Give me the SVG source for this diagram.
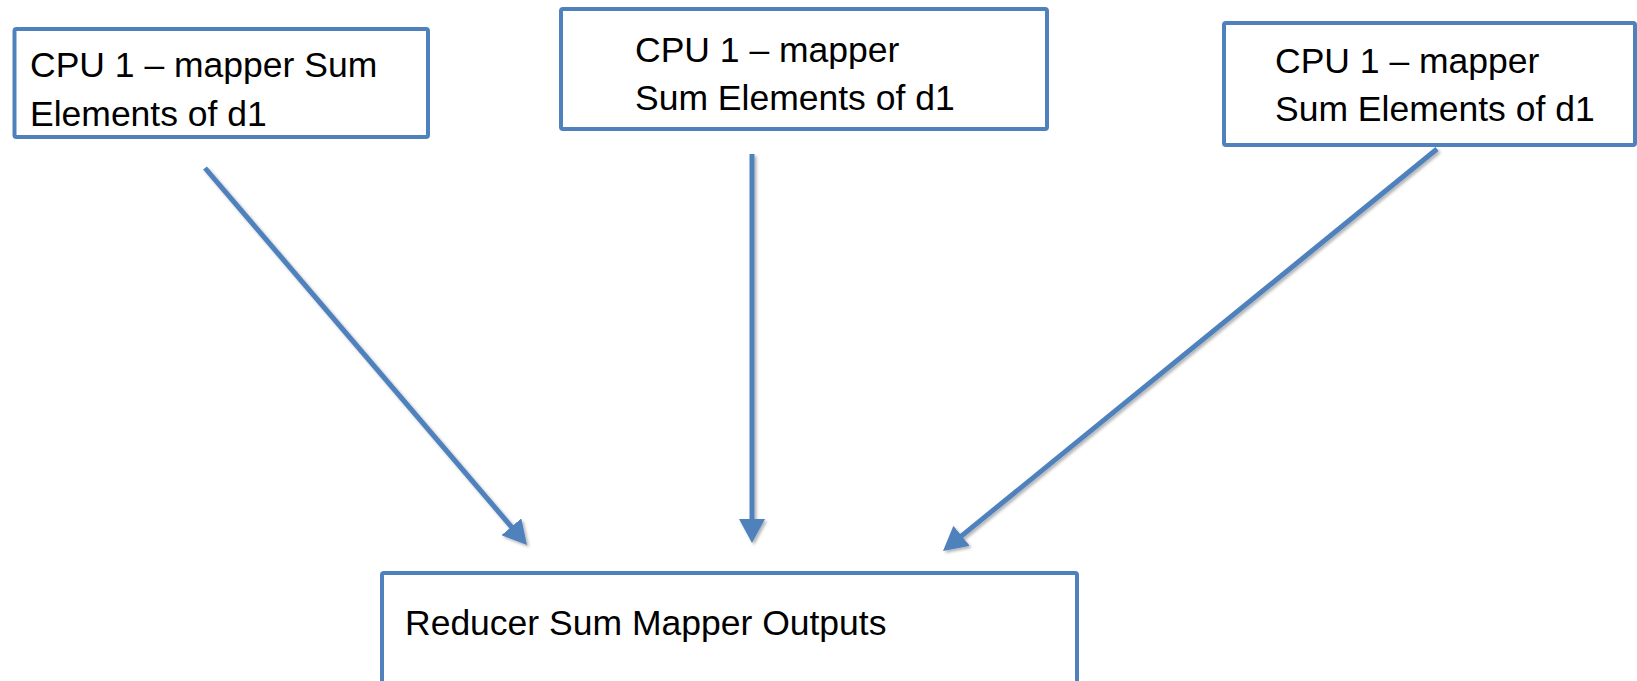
<svg xmlns="http://www.w3.org/2000/svg" width="1637" height="681" viewBox="0 0 1637 681">
  <defs>
    <style>
      .box { fill: #ffffff; stroke: #4F81BD; stroke-width: 4; }
      .lbl { font-family: "Liberation Sans", Arial, sans-serif; font-size: 35.5px; fill: #000000; }
      .conn { stroke: #4F81BD; stroke-width: 5; fill: none; }
    </style>
    <marker id="arrow" markerUnits="userSpaceOnUse" markerWidth="26" markerHeight="26" refX="4" refY="13" orient="auto">
      <path d="M0,0 L24,13 L0,26 z" fill="#4F81BD"/>
    </marker>
    <filter id="shadow" x="-10%" y="-10%" width="120%" height="120%">
      <feDropShadow dx="2" dy="2" stdDeviation="1.5" flood-color="#000000" flood-opacity="0.3"/>
    </filter>
  </defs>
  <rect width="1637" height="681" fill="#ffffff"/>

  <g id="node-mapper1">
    <rect class="box" x="14.5" y="29" width="413.5" height="108" rx="2"/>
    <text class="lbl" x="30" y="77">CPU 1 – mapper Sum</text>
    <text class="lbl" x="30" y="126">Elements of d1</text>
  </g>

  <g id="node-mapper2">
    <rect class="box" x="561" y="9" width="486" height="120" rx="2"/>
    <text class="lbl" x="635" y="62">CPU 1 – mapper</text>
    <text class="lbl" x="635" y="110">Sum Elements of d1</text>
  </g>

  <g id="node-mapper3">
    <rect class="box" x="1224" y="23" width="411" height="122" rx="2"/>
    <text class="lbl" x="1275" y="73">CPU 1 – mapper</text>
    <text class="lbl" x="1275" y="121">Sum Elements of d1</text>
  </g>

  <g id="node-reducer">
    <rect class="box" x="382" y="573" width="695" height="140" rx="2"/>
    <text class="lbl" x="405" y="635">Reducer Sum Mapper Outputs</text>
  </g>

  <g id="connectors" filter="url(#shadow)">
    <line class="conn" x1="205" y1="168" x2="514" y2="529.8" marker-end="url(#arrow)"/>
    <line class="conn" x1="752" y1="154" x2="752" y2="523" marker-end="url(#arrow)"/>
    <line class="conn" x1="1437" y1="149" x2="958.5" y2="538.4" marker-end="url(#arrow)"/>
  </g>
</svg>
